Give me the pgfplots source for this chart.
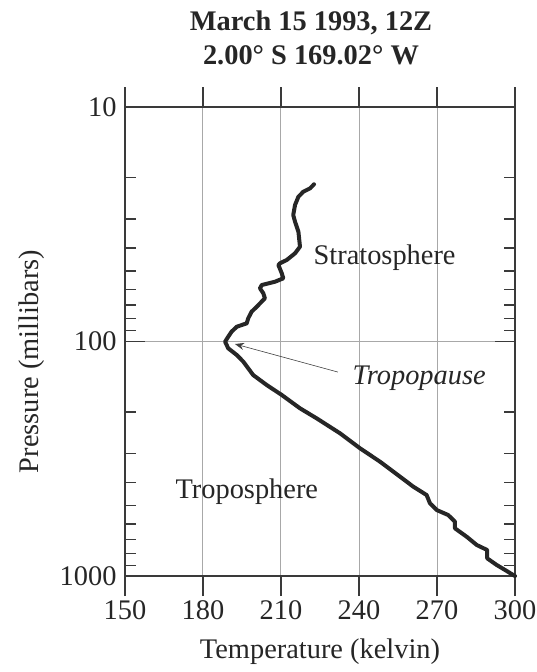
\documentclass[border=0pt]{standalone}
\usepackage{fontspec}
\setmainfont{Liberation Serif}
\usepackage{pgfplots}
\pgfplotsset{compat=1.18}
\usetikzlibrary{arrows.meta}
\definecolor{curve}{HTML}{262626}
\definecolor{frame}{HTML}{3A3A3A}
\definecolor{gridc}{HTML}{A8A8A8}
\begin{document}
\begin{tikzpicture}
\path[use as bounding box] (-125bp,-96bp) rectangle (412bp,576bp);
\begin{axis}[
  scale only axis,
  width=390bp, height=469bp,
  at={(0,0)}, anchor=south west,
  xmin=150, xmax=300,
  ymode=log, ymin=10, ymax=1000, y dir=reverse,
  xtick={150,180,210,240,270,300},
  ytick={10,100,1000},
  yticklabels={10,100,1000},
  xtick align=outside,
  ytick align=inside,
  major tick length=20bp,
  minor tick length=11bp,
  xtick pos=both, ytick pos=both,
  grid=major,
  major grid style={gridc, line width=1bp},
  axis line style={frame, line width=1.4bp},
  every tick/.style={frame, line width=1.4bp},
  /pgf/number format/assume math mode=true,
  tick label style={font=\fontsize{28.5}{32}\selectfont, color=black!85},
  xticklabel style={yshift=-1bp},
  yticklabel style={xshift=-5bp},
  xlabel={Temperature (kelvin)},
  ylabel={Pressure (millibars)},
  label style={font=\fontsize{28.5}{32}\selectfont, color=black!85},
  xlabel style={at={(axis description cs:0.5,0)}, anchor=center, yshift=-76bp},
  ylabel style={at={(axis description cs:0,0.5)}, anchor=center, rotate=0, yshift=93bp, xshift=-20bp},
  clip=false,
]
\addplot[curve, line width=4bp, line join=round, line cap=round] coordinates {
(222.7,21.36) (221.2,22.22) (218.6,22.97) (216.7,24.13) (215.4,26.17)
(214.7,28.88) (215.4,30.85) (216.7,34.03) (217.3,39.42) (215.4,42.06)
(212.2,44.93) (209.6,46.40) (209.0,47.19) (210.3,51.20) (210.9,53.77)
(207.7,55.6) (202.6,57.42) (201.9,59.31) (203.2,62.3) (203.8,65.43)
(200.7,71.05) (198.7,74.62) (197.4,79.6) (196.8,83.66) (193.0,86.5)
(191.0,90.8) (189.7,95.4) (188.5,100.2) (189.7,106.9) (193.0,114.2)
(195.5,121.9) (199.3,139) (204.5,153.3) (210.3,169.1) (217.3,192.7)
(223.7,212.6) (232.7,246.3) (240.4,285.4) (248.1,325.6) (255.8,377.2)
(260.9,416.1) (266.0,451.5) (267.3,489.8) (269.9,523.2) (274.3,549.5)
(276.9,586.7) (276.9,626.1) (281.4,679.9) (285.3,737.8) (289.3,774.8)
(289.3,840.6) (293.0,898) (296.2,942.8) (299.3,990) (300,1000)
};
\node[anchor=west, font=\fontsize{28.5}{32}\selectfont, color=black!85] at (axis cs:221.2,44) {Stratosphere};
\node[anchor=west, font=\fontsize{28.5}{32}\selectfont\itshape, color=black!85] at (axis cs:236.2,143) {Tropopause};
\node[anchor=west, font=\fontsize{28.5}{32}\selectfont, color=black!85] at (axis cs:168.1,438) {Troposphere};
\draw[black!75, line width=0.6bp, -{Stealth[length=9bp, width=7bp]}] (axis cs:231.9,135) -- (axis cs:192.3,102.5);
\end{axis}
\node[anchor=base, font=\fontsize{28.5}{32}\selectfont\bfseries, color=black!85] at (186bp,545bp) {March 15 1993, 12Z};
\node[anchor=base, font=\fontsize{28.5}{32}\selectfont\bfseries, color=black!85] at (186bp,511bp) {2.00° S 169.02° W};
\end{tikzpicture}
\end{document}
